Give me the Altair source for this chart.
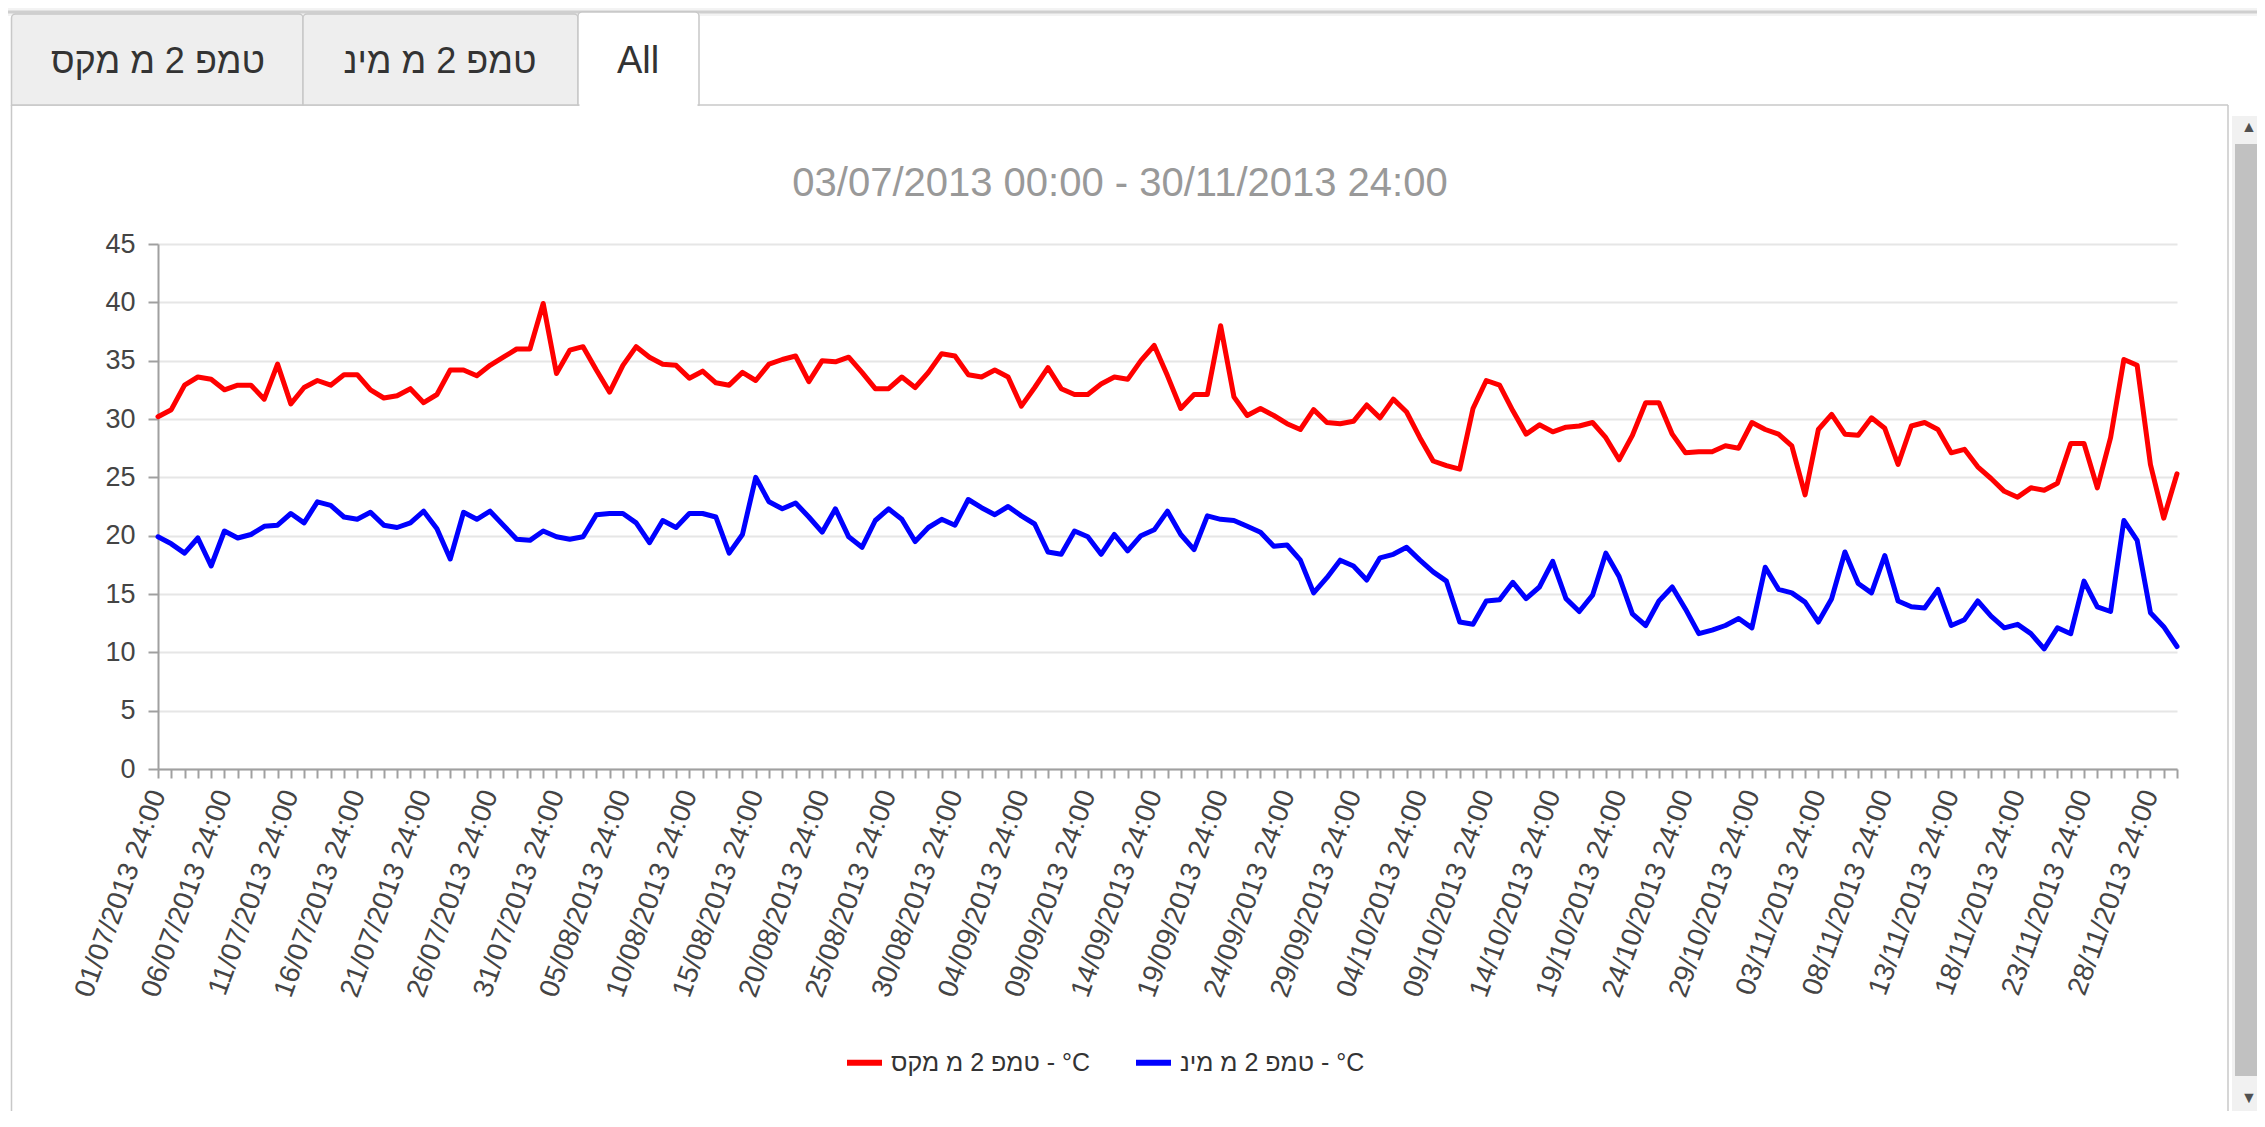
import altair as alt
import pandas as pd
from datetime import date, timedelta

# ---------------- data ----------------
max_temp = [
    30.2, 30.8, 32.9, 33.6, 33.4, 32.5, 32.9, 32.9, 31.7, 34.7,
    31.3, 32.7, 33.3, 32.9, 33.8, 33.8, 32.5, 31.8, 32.0, 32.6,
    31.4, 32.1, 34.2, 34.2, 33.7, 34.6, 35.3, 36.0, 36.0, 39.9,
    33.9, 35.9, 36.2, 34.2, 32.3, 34.6, 36.2, 35.3, 34.7, 34.6,
    33.5, 34.1, 33.1, 32.9, 34.0, 33.3, 34.7, 35.1, 35.4, 33.2,
    35.0, 34.9, 35.3, 34.0, 32.6, 32.6, 33.6, 32.7, 34.0, 35.6,
    35.4, 33.8, 33.6, 34.2, 33.6, 31.1, 32.7, 34.4, 32.6, 32.1,
    32.1, 33.0, 33.6, 33.4, 35.0, 36.3, 33.7, 30.9, 32.1, 32.1,
    38.0, 31.9, 30.3, 30.9, 30.3, 29.6, 29.1, 30.8, 29.7, 29.6,
    29.8, 31.2, 30.1, 31.7, 30.6, 28.4, 26.4, 26.0, 25.7, 30.9,
    33.3, 32.9, 30.7, 28.7, 29.5, 28.9, 29.3, 29.4, 29.7, 28.4,
    26.5, 28.6, 31.4, 31.4, 28.7, 27.1, 27.2, 27.2, 27.7, 27.5,
    29.7, 29.1, 28.7, 27.7, 23.5, 29.1, 30.4, 28.7, 28.6, 30.1,
    29.2, 26.1, 29.4, 29.7, 29.1, 27.1, 27.4, 25.9, 24.9, 23.8,
    23.3, 24.1, 23.9, 24.5, 27.9, 27.9, 24.1, 28.4, 35.1, 34.6,
    26.1, 21.5, 25.3,
]
min_temp = [
    19.9, 19.3, 18.5, 19.8, 17.4, 20.4, 19.8, 20.1, 20.8, 20.9,
    21.9, 21.1, 22.9, 22.6, 21.6, 21.4, 22.0, 20.9, 20.7, 21.1,
    22.1, 20.6, 18.0, 22.0, 21.4, 22.1, 20.9, 19.7, 19.6, 20.4,
    19.9, 19.7, 19.9, 21.8, 21.9, 21.9, 21.1, 19.4, 21.3, 20.7,
    21.9, 21.9, 21.6, 18.5, 20.1, 25.0, 22.9, 22.3, 22.8, 21.6,
    20.3, 22.3, 19.9, 19.0, 21.3, 22.3, 21.4, 19.5, 20.7, 21.4,
    20.9, 23.1, 22.4, 21.8, 22.5, 21.7, 21.0, 18.6, 18.4, 20.4,
    19.9, 18.4, 20.1, 18.7, 20.0, 20.5, 22.1, 20.1, 18.8, 21.7,
    21.4, 21.3, 20.8, 20.3, 19.1, 19.2, 17.9, 15.1, 16.4, 17.9,
    17.4, 16.2, 18.1, 18.4, 19.0, 17.9, 16.9, 16.1, 12.6, 12.4,
    14.4, 14.5, 16.0, 14.6, 15.6, 17.8, 14.6, 13.5, 14.9, 18.5,
    16.5, 13.3, 12.3, 14.4, 15.6, 13.7, 11.6, 11.9, 12.3, 12.9,
    12.1, 17.3, 15.4, 15.1, 14.3, 12.6, 14.6, 18.6, 15.9, 15.1,
    18.3, 14.4, 13.9, 13.8, 15.4, 12.3, 12.8, 14.4, 13.1, 12.1,
    12.4, 11.6, 10.3, 12.1, 11.6, 16.1, 13.9, 13.5, 21.3, 19.6,
    13.4, 12.2, 10.5,
]
n_days = len(max_temp)
start_day = date(2013, 7, 1)
day_labels = [(start_day + timedelta(days=i)).strftime("%d/%m/%Y") + " 24:00" for i in range(n_days)]
tick_labels = day_labels[::5]
y_ticks = [0, 5, 10, 15, 20, 25, 30, 35, 40, 45]

SERIES_MAX = "טמפ 2 מ מקס - °C"
SERIES_MIN = "טמפ 2 מ מינ - °C"
TAB_LABELS = ["טמפ 2 מ מקס", "טמפ 2 מ מינ", "All"]
TITLE = "03/07/2013 00:00 - 30/11/2013 24:00"

df = pd.DataFrame({
    "idx": list(range(n_days)) * 2,
    "value": max_temp + min_temp,
    "series": [SERIES_MAX] * n_days + [SERIES_MIN] * n_days,
})

FONT = "Liberation Sans"
W, H = 2019, 525
dummy = alt.Data(values=[{"a": 1}])

label_expr = ("datum.value % 5 === 0 ? " + str(tick_labels) + "[datum.value / 5] : ''")

def rect(x, x2, y, y2, fill, stroke=None, sw=1.5, r=0):
    kw = dict(fill=fill)
    if stroke:
        kw.update(stroke=stroke, strokeWidth=sw)
    if r:
        kw.update(cornerRadiusTopLeft=r, cornerRadiusTopRight=r)
    return alt.Chart(dummy).mark_rect(**kw).encode(
        x=alt.value(x), x2=alt.value(x2), y=alt.value(y), y2=alt.value(y2))

def hrule(x, x2, y, color, sw=1.5):
    return alt.Chart(dummy).mark_rule(color=color, strokeWidth=sw).encode(
        x=alt.value(x), x2=alt.value(x2), y=alt.value(y))

def vrule(x, y, y2, color, sw=1.5):
    return alt.Chart(dummy).mark_rule(color=color, strokeWidth=sw).encode(
        x=alt.value(x), y=alt.value(y), y2=alt.value(y2))

def text(t, x, y, size, color, align="center"):
    return alt.Chart(dummy).mark_text(text=t, font=FONT, fontSize=size, color=color,
                                      align=align, baseline="middle").encode(
        x=alt.value(x), y=alt.value(y))

deco = [
    rect(-150, 2099, -236, -228, "#f3f3f3"),
    hrule(-150, 2099, -232, "#cfcfcf", 3),
    # panel borders
    vrule(-146.5, -139, 875, "#c8c8c8", 1.5),
    vrule(2070, -139, 875, "#c8c8c8", 1.5),
    hrule(-146.5, 2070, -139, "#c8c8c8", 1.5),
    # tabs
    rect(-146.5, 145, -230, -139, "#eeeeee", "#c8c8c8", 1.5, 4),
    rect(145, 420, -230, -139, "#eeeeee", "#c8c8c8", 1.5, 4),
    rect(420, 541, -232, -139, "#ffffff", "#c8c8c8", 1.5, 4),
    hrule(421.5, 539.5, -139, "#ffffff", 3),
    text(TAB_LABELS[0], 0, -182, 36, "#333333"),
    text(TAB_LABELS[1], 282, -182, 36, "#333333"),
    text(TAB_LABELS[2], 480, -182, 38, "#333333"),
    # title
    text(TITLE, 962, -60, 40, "#999999"),
    # scrollbar
    rect(2074, 2099, -128, 875, "#f1f1f1"),
    rect(2077, 2099, -100, 832, "#c1c1c1"),
    text("▲", 2091, -117, 16, "#505050"),
    text("▼", 2091, 854, 16, "#505050"),
]

lines = alt.Chart(df).mark_line(strokeWidth=5, strokeJoin="round", strokeCap="round").encode(
    x=alt.X("idx:Q",
            scale=alt.Scale(domain=[0, n_days - 1], nice=False, zero=False),
            axis=alt.Axis(values=list(range(n_days)), labelExpr=label_expr, title=None,
                          grid=False, labelAngle=-70, labelAlign="right", labelBaseline="middle",
                          labelFontSize=28, labelFont=FONT, labelColor="#444444", labelLimit=1000,
                          labelOverlap=False, labelFlush=False, labelBound=False,
                          labelPadding=13, tickSize=9, tickColor="#a0a0a0", tickWidth=2,
                          domainColor="#a0a0a0", domainWidth=2)),
    y=alt.Y("value:Q",
            scale=alt.Scale(domain=[0, 45], nice=False, zero=True),
            axis=alt.Axis(values=y_ticks, title=None, grid=True, gridColor="#e6e6e6", gridWidth=2,
                          labelFontSize=27, labelFont=FONT, labelColor="#444444", labelPadding=13,
                          tickSize=10, tickColor="#a0a0a0", tickWidth=2,
                          domainColor="#a0a0a0", domainWidth=2)),
    color=alt.Color("series:N",
                    scale=alt.Scale(domain=[SERIES_MAX, SERIES_MIN], range=["#ff0000", "#0000ff"]),
                    legend=alt.Legend(title=None, orient="none", legendX=686, legendY=798,
                                      direction="horizontal", symbolType="stroke",
                                      symbolStrokeWidth=6, symbolSize=1225,
                                      labelFontSize=25, labelFont=FONT, labelColor="#333333",
                                      labelLimit=1000,
                                      labelOffset=6, columnPadding=34, padding=0)),
)

chart = alt.layer(*deco, lines).properties(
    width=W, height=H,
    autosize=alt.AutoSizeParams(type="none"),
    padding={"left": 150, "top": 236, "right": 80, "bottom": 342},
).configure_view(stroke=None)

chart.save("out.html", embed_options={"renderer": "svg", "actions": False})
